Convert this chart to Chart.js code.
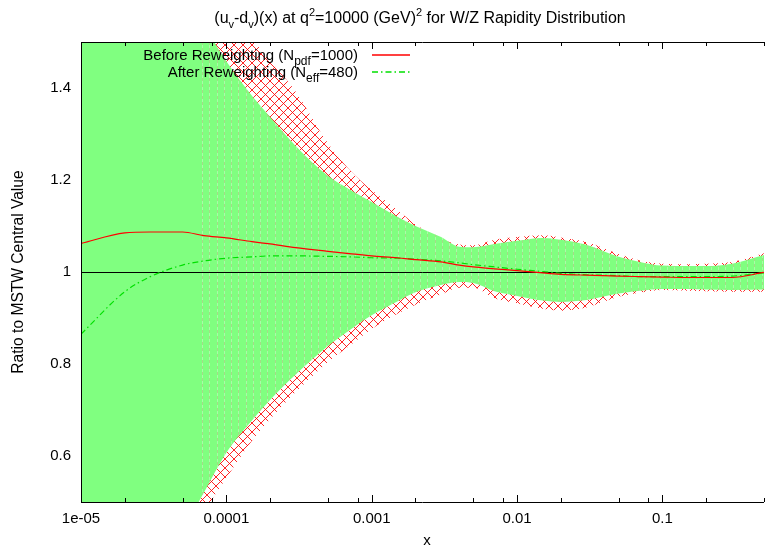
<!DOCTYPE html>
<html>
<head>
<meta charset="utf-8">
<script src="https://cdn.jsdelivr.net/npm/chart.js@4"></script>
<style>
  html, body { margin: 0; padding: 0; background: #fff; }
</style>
</head>
<body>
<canvas id="chart" width="765" height="550"></canvas>
<script>
const FONT = "'Liberation Sans', Arial, Helvetica, sans-serif";

// sample points along x (log scale)
const xSamples = [1e-5, 2e-5, 3e-5, 5e-5, 7e-5, 1e-4, 1.5e-4, 2e-4, 3e-4, 5e-4, 7e-4,
  1e-3, 1.5e-3, 2e-3, 3e-3, 4e-3, 5e-3, 7e-3, 1e-2, 1.5e-2, 2e-2, 3e-2, 5e-2, 7e-2,
  0.1, 0.15, 0.2, 0.3, 0.5];

// before reweighting: band and central value
const redUpper = [2.2, 2.0, 1.9, 1.75, 1.65, 1.575, 1.507, 1.459, 1.392, 1.28, 1.223,
  1.178, 1.135, 1.104, 1.072, 1.060, 1.058, 1.070, 1.076, 1.080, 1.075, 1.065, 1.039, 1.025,
  1.018, 1.017, 1.018, 1.022, 1.041];
const redLower = [-0.05, 0.15, 0.25, 0.40, 0.478, 0.552, 0.633, 0.680, 0.739, 0.804, 0.839,
  0.876, 0.909, 0.929, 0.951, 0.966, 0.966, 0.943, 0.932, 0.920, 0.916, 0.923, 0.946, 0.955,
  0.961, 0.959, 0.958, 0.957, 0.957];
const redCentral = [1.062, 1.085, 1.087, 1.087, 1.079, 1.074, 1.066, 1.061, 1.053, 1.045, 1.040,
  1.035, 1.031, 1.027, 1.022, 1.015, 1.011, 1.007, 1.003, 0.998, 0.995, 0.993, 0.991, 0.990,
  0.989, 0.988, 0.988, 0.988, 0.999];

// after reweighting: band and central value
const greenUpper = [2.0, 1.85, 1.75, 1.61, 1.537, 1.458, 1.383, 1.337, 1.274, 1.209, 1.180,
  1.152, 1.120, 1.100, 1.076, 1.055, 1.054, 1.061, 1.068, 1.074, 1.070, 1.059, 1.033, 1.022,
  1.014, 1.013, 1.013, 1.018, 1.037];
const greenLower = [0.0, 0.2, 0.3, 0.437, 0.520, 0.607, 0.677, 0.722, 0.777, 0.839, 0.873,
  0.906, 0.936, 0.956, 0.972, 0.978, 0.976, 0.958, 0.948, 0.938, 0.935, 0.939, 0.953, 0.959,
  0.963, 0.963, 0.962, 0.961, 0.962];
const greenCentral = [0.865, 0.957, 0.990, 1.015, 1.024, 1.030, 1.033, 1.035, 1.035, 1.034, 1.033,
  1.031, 1.030, 1.028, 1.024, 1.020, 1.016, 1.011, 1.006, 1.001, 0.997, 0.994, 0.992, 0.990,
  0.990, 0.990, 0.990, 0.991, 0.998];

// axes
const xMajorTicks = [1e-5, 1e-4, 1e-3, 1e-2, 1e-1];
const xMajorLabels = ["1e-05", "0.0001", "0.001", "0.01", "0.1"];
const xMinorMultiples = [2, 5, 8];
const yTickValues = [0.6, 0.8, 1, 1.2, 1.4];
const yTickLabels = ["0.6", "0.8", "1", "1.2", "1.4"];
const unityLevel = 1;

const X_MIN = 1e-5;
const X_MAX = 0.5;
const Y_MIN = 0.5;
const Y_MAX = 1.5;

// gnuplot leaves faint seams between the filled slices
const SEAM_START = 6.8e-5;
const SEAMS_PER_DECADE = 20;

const GREEN_FILL = "#80ff80";
const RED = "#ff0000";
const GREEN_LINE = "#00e000";

function toPoints(values) {
  return xSamples.map((x, i) => ({ x, y: values[i] }));
}

function xTickList() {
  const list = [];
  xMajorTicks.forEach((d) => {
    list.push(d);
    xMinorMultiples.forEach((m) => {
      if (d * m <= X_MAX * 1.0001) list.push(d * m);
    });
  });
  return list.sort((a, b) => a - b);
}

function majorIndex(v) {
  return xMajorTicks.findIndex((d) => Math.abs(v - d) / d < 1e-6);
}

function makeHatch(ctx) {
  const size = 9;
  const c = document.createElement("canvas");
  c.width = size;
  c.height = size;
  const g = c.getContext("2d");
  g.strokeStyle = "rgba(255, 0, 0, 0.85)";
  g.lineWidth = 1;
  g.beginPath();
  g.moveTo(-1, -1);
  g.lineTo(size + 1, size + 1);
  g.moveTo(size + 1, -1);
  g.lineTo(-1, size + 1);
  g.stroke();
  return ctx.createPattern(c, "repeat");
}

function drawRich(ctx, parts, x, y, align, size, subSize) {
  const fontFor = (kind) => `${kind === "n" ? size : subSize}px ${FONT}`;
  const widths = parts.map(([text, kind]) => {
    ctx.font = fontFor(kind);
    return ctx.measureText(text).width;
  });
  const total = widths.reduce((a, b) => a + b, 0);
  let cx = align === "right" ? x - total : align === "center" ? x - total / 2 : x;
  ctx.textAlign = "left";
  ctx.textBaseline = "alphabetic";
  parts.forEach(([text, kind], i) => {
    ctx.font = fontFor(kind);
    const dy = kind === "sub" ? size * 0.3 : kind === "sup" ? -size * 0.45 : 0;
    ctx.fillText(text, cx, y + dy);
    cx += widths[i];
  });
}

function bandPath(ctx, up, lo) {
  ctx.moveTo(up[0].x, up[0].y);
  for (let i = 1; i < up.length; i++) {
    const p = up[i - 1];
    const q = up[i];
    if (p.cp2x !== undefined && q.cp1x !== undefined) {
      ctx.bezierCurveTo(p.cp2x, p.cp2y, q.cp1x, q.cp1y, q.x, q.y);
    } else {
      ctx.lineTo(q.x, q.y);
    }
  }
  ctx.lineTo(lo[lo.length - 1].x, lo[lo.length - 1].y);
  for (let i = lo.length - 1; i > 0; i--) {
    const p = lo[i];
    const q = lo[i - 1];
    if (p.cp1x !== undefined && q.cp2x !== undefined) {
      ctx.bezierCurveTo(p.cp1x, p.cp1y, q.cp2x, q.cp2y, q.x, q.y);
    } else {
      ctx.lineTo(q.x, q.y);
    }
  }
  ctx.closePath();
}

function drawSeams(chart) {
  const { ctx, chartArea: a } = chart;
  const xScale = chart.scales.x;
  const up = chart.getDatasetMeta(2).data;
  const lo = chart.getDatasetMeta(3).data;
  ctx.save();
  ctx.beginPath();
  ctx.rect(a.left, a.top, a.width, a.height);
  ctx.clip();
  ctx.beginPath();
  bandPath(ctx, up, lo);
  ctx.clip();
  ctx.lineWidth = 1;
  for (let k = 0; ; k++) {
    const v = SEAM_START * Math.pow(10, k / SEAMS_PER_DECADE);
    if (v > X_MAX) break;
    const px = Math.round(xScale.getPixelForValue(v)) + 0.5;
    ctx.setLineDash([3, 3]);
    ctx.strokeStyle = "rgba(235, 150, 150, 0.35)";
    ctx.beginPath();
    ctx.moveTo(px, a.top);
    ctx.lineTo(px, a.bottom);
    ctx.stroke();
    ctx.lineDashOffset = 3;
    ctx.strokeStyle = "rgba(255, 255, 255, 0.3)";
    ctx.beginPath();
    ctx.moveTo(px, a.top);
    ctx.lineTo(px, a.bottom);
    ctx.stroke();
    ctx.lineDashOffset = 0;
  }
  ctx.restore();
}

function drawUnity(chart) {
  const { ctx, chartArea: a } = chart;
  const py = Math.round(chart.scales.y.getPixelForValue(unityLevel)) + 0.5;
  ctx.save();
  ctx.strokeStyle = "#000";
  ctx.lineWidth = 1;
  ctx.beginPath();
  ctx.moveTo(a.left, py);
  ctx.lineTo(a.right, py);
  ctx.stroke();
  ctx.restore();
}

function drawFrame(chart) {
  const { ctx, chartArea: a } = chart;
  const xScale = chart.scales.x;
  ctx.save();
  ctx.strokeStyle = "#000";
  ctx.lineWidth = 1;
  ctx.beginPath();
  ctx.moveTo(a.left + 0.5, a.top + 0.5);
  ctx.lineTo(a.left + 0.5, a.bottom + 0.5);
  ctx.moveTo(a.left, a.top + 0.5);
  ctx.lineTo(a.right, a.top + 0.5);
  ctx.moveTo(a.left, a.bottom + 0.5);
  ctx.lineTo(a.right, a.bottom + 0.5);
  xTickList().forEach((v) => {
    const len = majorIndex(v) >= 0 ? 7 : 4;
    const px = Math.round(xScale.getPixelForValue(v)) + 0.5;
    ctx.moveTo(px, a.bottom);
    ctx.lineTo(px, a.bottom - len);
    ctx.moveTo(px, a.top);
    ctx.lineTo(px, a.top + len);
  });
  ctx.stroke();
  ctx.restore();
}

function drawTexts(chart) {
  const { ctx } = chart;
  ctx.save();
  ctx.fillStyle = "#000";

  drawRich(ctx, [
    ["(u", "n"], ["v", "sub"], ["-d", "n"], ["v", "sub"], [")(x) at q", "n"], ["2", "sup"],
    ["=10000 (GeV)", "n"], ["2", "sup"], [" for W/Z Rapidity Distribution", "n"]
  ], 420, 23, "center", 16, 11);

  ctx.font = `15px ${FONT}`;
  ctx.textAlign = "center";
  ctx.textBaseline = "middle";
  ctx.fillText("x", 427, 541);

  ctx.save();
  ctx.translate(19, 272);
  ctx.rotate(-Math.PI / 2);
  ctx.font = `15.6px ${FONT}`;
  ctx.fillText("Ratio to MSTW Central Value", 0, 0);
  ctx.restore();

  // legend
  drawRich(ctx, [["Before Reweighting (N", "n"], ["pdf", "sub"], ["=1000)", "n"]],
    358, 60, "right", 15, 12);
  drawRich(ctx, [["After Reweighting (N", "n"], ["eff", "sub"], ["=480)", "n"]],
    358, 77, "right", 15, 12);

  ctx.lineWidth = 1.5;
  ctx.strokeStyle = RED;
  ctx.beginPath();
  ctx.moveTo(372, 55);
  ctx.lineTo(410, 55);
  ctx.stroke();
  ctx.strokeStyle = GREEN_LINE;
  ctx.setLineDash([6, 3, 1.5, 3]);
  ctx.beginPath();
  ctx.moveTo(372, 72);
  ctx.lineTo(410, 72);
  ctx.stroke();
  ctx.restore();
}

const decorPlugin = {
  id: "decor",
  afterDatasetDraw(chart, args) {
    if (args.index === 2) {
      drawSeams(chart);
      drawUnity(chart);
    }
  },
  afterDraw(chart) {
    drawFrame(chart);
    drawTexts(chart);
  }
};

const canvas = document.getElementById("chart");
const ctx = canvas.getContext("2d");
const hatch = makeHatch(ctx);

const bandStyle = {
  showLine: true,
  pointRadius: 0,
  borderWidth: 0,
  borderColor: "rgba(0,0,0,0)",
  cubicInterpolationMode: "monotone",
  capBezierPoints: false
};
const curveStyle = {
  pointRadius: 0,
  borderWidth: 1.2,
  fill: false,
  cubicInterpolationMode: "monotone",
  capBezierPoints: false
};

new Chart(ctx, {
  type: "line",
  data: {
    datasets: [
      { ...curveStyle, label: "Before Reweighting", data: toPoints(redCentral), borderColor: RED },
      { ...curveStyle, label: "After Reweighting", data: toPoints(greenCentral), borderColor: GREEN_LINE, borderDash: [6, 3, 1.5, 3] },
      { ...bandStyle, data: toPoints(greenUpper), fill: "+1", backgroundColor: GREEN_FILL },
      { ...bandStyle, data: toPoints(greenLower), fill: false },
      { ...bandStyle, data: toPoints(redUpper), fill: "+1", backgroundColor: hatch },
      { ...bandStyle, data: toPoints(redLower), fill: false }
    ]
  },
  options: {
    responsive: false,
    animation: false,
    events: [],
    layout: { padding: { top: 42, right: 1, left: 0, bottom: 0 } },
    plugins: {
      legend: { display: false },
      title: { display: false },
      tooltip: { enabled: false }
    },
    scales: {
      x: {
        type: "logarithmic",
        min: X_MIN,
        max: X_MAX,
        grid: { display: false, drawTicks: false },
        border: { display: false },
        ticks: {
          autoSkip: false,
          maxRotation: 0,
          padding: 8,
          color: "#000",
          font: { family: FONT, size: 15 },
          callback: (value) => {
            const i = majorIndex(value);
            return i >= 0 ? xMajorLabels[i] : "";
          }
        },
        afterBuildTicks: (scale) => {
          scale.ticks = xTickList().map((v) => ({ value: v }));
        },
        afterFit: (scale) => {
          scale.height = 48;
          scale.paddingLeft = 0;
          scale.paddingRight = 0;
        }
      },
      y: {
        type: "linear",
        min: Y_MIN,
        max: Y_MAX,
        grid: { display: false, drawTicks: false },
        border: { display: false },
        ticks: {
          padding: 10,
          color: "#000",
          font: { family: FONT, size: 15 },
          callback: (value, index) => yTickLabels[index]
        },
        afterBuildTicks: (scale) => {
          scale.ticks = yTickValues.map((v) => ({ value: v }));
        },
        afterFit: (scale) => {
          scale.width = 81;
          scale.paddingTop = 0;
          scale.paddingBottom = 0;
        }
      }
    }
  },
  plugins: [decorPlugin]
});
</script>
</body>
</html>
